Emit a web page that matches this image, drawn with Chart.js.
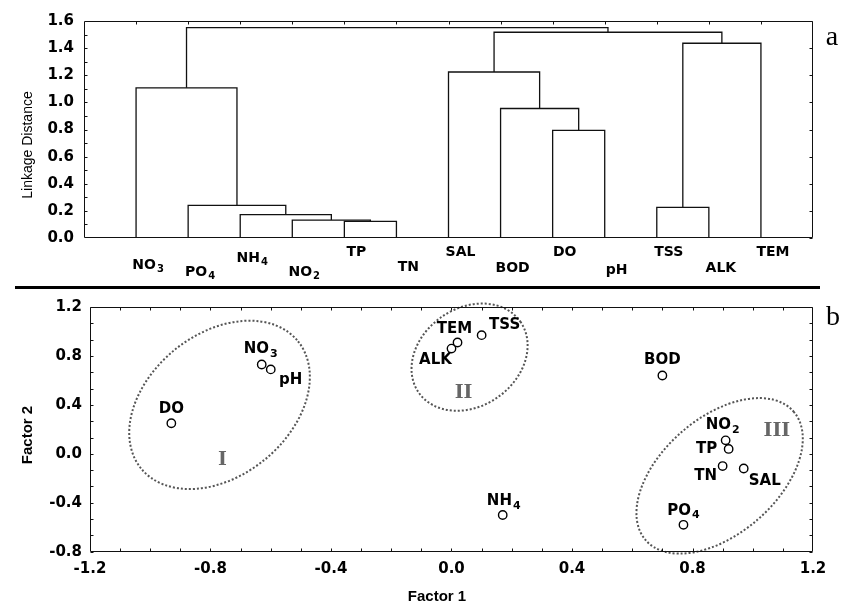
<!DOCTYPE html>
<html>
<head>
<meta charset="utf-8">
<script src="https://cdn.jsdelivr.net/npm/chart.js@4.4.1/dist/chart.umd.min.js"></script>
<style>
  body { margin: 0; background: #fff; }
  #wrap { position: relative; width: 853px; height: 615px; overflow: hidden; }
  #clusterChart { position: absolute; left: 0; top: 0; }
  #factorChart { position: absolute; left: 0; top: 290px; }
  #divider { position: absolute; left: 15px; top: 286px; width: 805px; height: 3px; background: #000; }
</style>
</head>
<body>
<div id="wrap">
  <canvas id="clusterChart" width="853" height="290"></canvas>
  <div id="divider"></div>
  <canvas id="factorChart" width="853" height="325"></canvas>
</div>
<script>
// a: dendrogram, leaves in drawn order
const leafLabels = ['NO₃', 'PO₄', 'NH₄', 'NO₂', 'TP', 'TN', 'SAL', 'BOD', 'DO', 'pH', 'TSS', 'ALK', 'TEM'];
// merge k joins two nodes (0-12 = leaves, 13+k = result of merge k)
const mergeLeft   = [4, 3, 2, 1, 0, 8, 7, 6, 10, 21, 20, 17];
const mergeRight  = [5, 13, 14, 15, 16, 9, 18, 19, 11, 12, 22, 23];
const mergeHeight = [0.123, 0.132, 0.172, 0.240, 1.107, 0.793, 0.955, 1.224, 0.226, 1.436, 1.517, 1.551];
const linkageTicks = [0, 0.2, 0.4, 0.6, 0.8, 1.0, 1.2, 1.4, 1.6];

// b: factor loadings
const variables = ['DO', 'NO₃', 'pH', 'ALK', 'TEM', 'TSS', 'BOD', 'NH₄', 'NO₂', 'TP', 'TN', 'SAL', 'PO₄'];
const factor1 = [-0.93, -0.63, -0.60, 0.00, 0.02, 0.10, 0.70, 0.17, 0.91, 0.92, 0.90, 0.97, 0.77];
const factor2 = [0.25, 0.73, 0.69, 0.86, 0.91, 0.97, 0.64, -0.50, 0.11, 0.04, -0.10, -0.12, -0.58];
const factor1Ticks = [-1.2, -0.8, -0.4, 0, 0.4, 0.8, 1.2];
const factor2Ticks = [-0.8, -0.4, 0, 0.4, 0.8, 1.2];

const clusterNames = ['I', 'II', 'III'];
const clusterCenterX = [-0.77, 0.06, 0.89];
const clusterCenterY = [0.40, 0.79, -0.18];
const clusterNameX = [-0.76, 0.04, 1.08];
const clusterNameY = [-0.05, 0.50, 0.19];

// label placement / shape styling (pixels)
const leafLabelDrop = [27, 34, 20, 34, 14, 29, 14, 30, 14, 32, 14, 30, 14];
const pointLabelShift = [[0, -14], [-1, -15], [20, 11], [-16, 12], [-3, -13], [23, -10], [0, -15],
                         [1, -14], [-3, -15], [-22, 0], [-17, 10], [21, 13], [0, -14]];
const clusterShape = [[101, 71, 39], [62, 49, 35], [98, 58, 41]];

const SANS = '"DejaVu Sans", sans-serif';
const SUBS = '₀₁₂₃₄₅₆₇₈₉';

function range(start, stop, step) {
    const out = [];
    for (let v = start; v <= stop + 1e-9; v += step) out.push(v);
    return out;
}

// bold label, trailing subscript digits drawn smaller and lowered
function drawLabel(ctx, text, cx, cy, size) {
    let base = text, sub = '';
    while (base.length && SUBS.includes(base[base.length - 1])) {
        sub = SUBS.indexOf(base[base.length - 1]) + sub;
        base = base.slice(0, -1);
    }
    const subSize = Math.round(size * 0.72);
    ctx.font = `bold ${size}px ${SANS}`;
    const wb = ctx.measureText(base).width;
    ctx.font = `bold ${subSize}px ${SANS}`;
    const ws = sub ? ctx.measureText(sub).width + 1 : 0;
    const left = cx - (wb + ws) / 2;
    ctx.textAlign = 'left';
    ctx.textBaseline = 'middle';
    ctx.font = `bold ${size}px ${SANS}`;
    ctx.fillText(base, left, cy);
    if (sub) {
        ctx.font = `bold ${subSize}px ${SANS}`;
        ctx.fillText(sub, left + wb + 1, cy + size * 0.32);
    }
}

function drawFrame(chart, marks) {
    const { ctx, chartArea: a, scales: { x, y } } = chart;
    const L = Math.round(a.left) + 0.5, R = Math.round(a.right) - 0.5;
    const T = Math.round(a.top) + 0.5, B = Math.round(a.bottom) - 0.5;
    const n = 3;
    ctx.save();
    ctx.strokeStyle = '#111';
    ctx.lineWidth = 1;
    ctx.beginPath();
    ctx.rect(L, T, R - L, B - T);
    marks.top.forEach(v => { const p = Math.round(x.getPixelForValue(v)) + 0.5; ctx.moveTo(p, T); ctx.lineTo(p, T + n); });
    marks.bottom.forEach(v => { const p = Math.round(x.getPixelForValue(v)) + 0.5; ctx.moveTo(p, B); ctx.lineTo(p, B - n); });
    marks.left.forEach(v => { const p = Math.round(y.getPixelForValue(v)) + 0.5; ctx.moveTo(L, p); ctx.lineTo(L + n, p); });
    marks.right.forEach(v => { const p = Math.round(y.getPixelForValue(v)) + 0.5; ctx.moveTo(R, p); ctx.lineTo(R - n, p); });
    ctx.stroke();
    ctx.restore();
}

function rotatedText(ctx, text, font, cx, cy) {
    ctx.save();
    ctx.translate(cx, cy);
    ctx.rotate(-Math.PI / 2);
    ctx.font = font;
    ctx.textAlign = 'center';
    ctx.textBaseline = 'middle';
    ctx.fillText(text, 0, 0);
    ctx.restore();
}

function useTicks(list) {
    return scale => { scale.ticks = list.map(v => ({ value: v })); };
}

function tickFmt(v) {
    return (Math.round(v * 10) / 10).toFixed(1);
}

function renderDendrogram() {
    const nodeX = leafLabels.map((_, i) => i + 1);
    const nodeH = leafLabels.map(() => 0);
    const datasets = mergeHeight.map((h, k) => {
        const l = mergeLeft[k], r = mergeRight[k];
        nodeX.push((nodeX[l] + nodeX[r]) / 2);
        nodeH.push(h);
        return {
            data: [
                { x: nodeX[l], y: nodeH[l] },
                { x: nodeX[l], y: h },
                { x: nodeX[r], y: h },
                { x: nodeX[r], y: nodeH[r] }
            ],
            showLine: true,
            borderColor: '#111',
            borderWidth: 1.3,
            pointRadius: 0,
            clip: false
        };
    });

    const decor = {
        id: 'dendroDecor',
        afterDraw(chart) {
            const { ctx, chartArea: a, scales: { x } } = chart;
            drawFrame(chart, {
                top: leafLabels.map((_, i) => i + 1),
                bottom: [],
                left: range(0.1, 1.5, 0.1),
                right: linkageTicks
            });
            ctx.save();
            ctx.fillStyle = '#000';
            leafLabels.forEach((t, i) => {
                drawLabel(ctx, t, x.getPixelForValue(i + 1) + 12, a.bottom + leafLabelDrop[i], 14);
            });
            rotatedText(ctx, 'Linkage Distance', '14px "Liberation Sans", Arial, sans-serif', 28, 145);
            ctx.font = '28px "Liberation Serif", serif';
            ctx.textAlign = 'center';
            ctx.textBaseline = 'middle';
            ctx.fillText('a', a.right + 19, 38);
            ctx.restore();
        }
    };

    new Chart(document.getElementById('clusterChart'), {
        type: 'scatter',
        data: { datasets },
        options: {
            responsive: false,
            animation: false,
            devicePixelRatio: 1,
            layout: { padding: { top: 21, right: 40, bottom: 52, left: 0 } },
            plugins: {
                legend: { display: false },
                tooltip: { enabled: false }
            },
            scales: {
                x: { type: 'linear', min: 0, max: 14, display: false },
                y: {
                    min: 0,
                    max: 1.6,
                    afterBuildTicks: useTicks(linkageTicks),
                    afterFit: s => { s.width = 84; },
                    grid: { display: false, drawTicks: false },
                    border: { display: false },
                    ticks: {
                        color: '#000',
                        padding: 10,
                        font: { family: SANS, weight: 'bold', size: 15 },
                        callback: tickFmt
                    }
                }
            }
        },
        plugins: [decor]
    });
}

function renderFactorPlot() {
    const decor = {
        id: 'factorDecor',
        afterDatasetsDraw(chart) {
            const { ctx, scales: { x, y } } = chart;
            ctx.save();
            // cluster ellipses
            ctx.strokeStyle = '#555';
            ctx.lineWidth = 2;
            ctx.setLineDash([2, 2]);
            clusterNames.forEach((_, i) => {
                const [rx, ry, ang] = clusterShape[i];
                ctx.beginPath();
                ctx.ellipse(x.getPixelForValue(clusterCenterX[i]), y.getPixelForValue(clusterCenterY[i]),
                    rx, ry, -ang * Math.PI / 180, 0, Math.PI * 2);
                ctx.stroke();
            });
            ctx.setLineDash([]);
            ctx.textAlign = 'center';
            ctx.textBaseline = 'middle';
            ctx.fillStyle = '#666';
            ctx.font = 'bold 19px "DejaVu Serif", serif';
            clusterNames.forEach((t, i) => {
                ctx.fillText(t, x.getPixelForValue(clusterNameX[i]), y.getPixelForValue(clusterNameY[i]));
            });
            ctx.fillStyle = '#000';
            variables.forEach((t, i) => {
                drawLabel(ctx, t, x.getPixelForValue(factor1[i]) + pointLabelShift[i][0],
                    y.getPixelForValue(factor2[i]) + pointLabelShift[i][1], 15);
            });
            ctx.restore();
        },
        afterDraw(chart) {
            const { ctx, chartArea: a } = chart;
            drawFrame(chart, {
                top: range(-1.1, 1.1, 0.1),
                bottom: range(-1.1, 1.1, 0.1),
                left: range(-0.8, 1.2, 0.4 / 3),
                right: range(-0.8, 1.2, 0.4 / 3)
            });
            ctx.save();
            ctx.fillStyle = '#000';
            const titleFont = 'bold 15px "Liberation Sans", Arial, sans-serif';
            rotatedText(ctx, 'Factor 2', titleFont, 28, 145);
            ctx.font = titleFont;
            ctx.textAlign = 'center';
            ctx.textBaseline = 'middle';
            ctx.fillText('Factor 1', 437, 307);
            ctx.font = '28px "Liberation Serif", serif';
            ctx.fillText('b', a.right + 20, 28);
            ctx.restore();
        }
    };

    const axisFont = { family: SANS, weight: 'bold', size: 15 };

    new Chart(document.getElementById('factorChart'), {
        type: 'scatter',
        data: {
            datasets: [{
                data: factor1.map((v, i) => ({ x: v, y: factor2[i] })),
                pointRadius: 4.2,
                pointBorderWidth: 1.4,
                pointBorderColor: '#000',
                pointBackgroundColor: 'rgba(255,255,255,0)'
            }]
        },
        options: {
            responsive: false,
            animation: false,
            devicePixelRatio: 1,
            layout: { padding: { top: 11.7, right: 40, bottom: 0, left: 0 } },
            plugins: {
                legend: { display: false },
                tooltip: { enabled: false }
            },
            scales: {
                x: {
                    type: 'linear',
                    min: -1.2,
                    max: 1.2,
                    afterBuildTicks: useTicks(factor1Ticks),
                    afterFit: s => { s.height = 63.3; },
                    grid: { display: false, drawTicks: false },
                    border: { display: false },
                    ticks: { color: '#000', padding: 8, maxRotation: 0, autoSkip: false, font: axisFont, callback: tickFmt }
                },
                y: {
                    min: -0.8,
                    max: 1.2,
                    afterBuildTicks: useTicks(factor2Ticks),
                    afterFit: s => { s.width = 90; },
                    grid: { display: false, drawTicks: false },
                    border: { display: false },
                    ticks: { color: '#000', padding: 8, autoSkip: false, font: axisFont, callback: tickFmt }
                }
            }
        },
        plugins: [decor]
    });
}

renderDendrogram();
renderFactorPlot();
</script>
</body>
</html>
